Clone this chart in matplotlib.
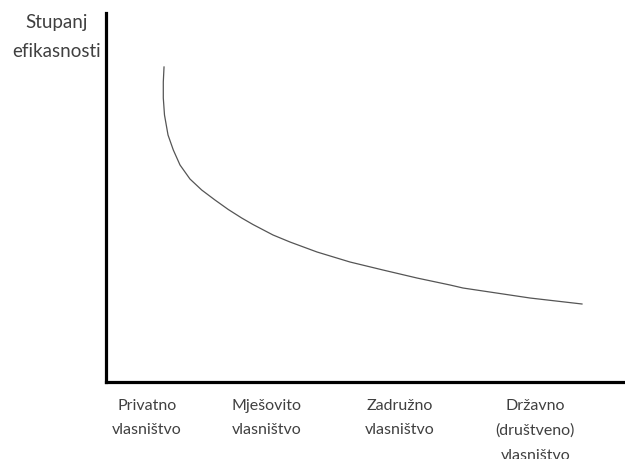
import numpy as np
import matplotlib
matplotlib.use('Agg')
from matplotlib import pyplot as plt

# ownership types along the x axis
categories = ['Privatno\nvlasništvo', 'Mješovito\nvlasništvo',
              'Zadružno\nvlasništvo', 'Državno\n(društveno)\nvlasništvo']
category_pos = [0.79, 3.10, 5.66, 8.27]

# efficiency curve (axis units 0..10)
curve_x = [1.118, 1.104, 1.104, 1.127, 1.195, 1.297, 1.426, 1.618, 1.844,
           2.100, 2.356, 2.615, 2.832, 3.218, 3.545, 4.066, 4.701, 5.337,
           5.992, 6.628, 6.879, 8.170, 9.171]
curve_y = [8.537, 8.130, 7.696, 7.236, 6.694, 6.287, 5.881, 5.501, 5.203,
           4.932, 4.675, 4.444, 4.268, 3.984, 3.794, 3.523, 3.252, 3.035,
           2.818, 2.629, 2.547, 2.276, 2.114]

ylabel = 'Stupanj\nefikasnosti'

plt.rcParams['font.family'] = ['Lato', 'DejaVu Sans']

fig = plt.figure(figsize=(6.25, 4.59), dpi=100)
ax = fig.add_axes([106 / 625, 1 - 382 / 459, 1 - 106 / 625, (382 - 13) / 459])

ax.plot(curve_x, curve_y, color='#555555', lw=0.9, solid_joinstyle='round')

ax.set_xlim(0, 10)
ax.set_ylim(0, 10)
for s in ['top', 'right']:
    ax.spines[s].set_visible(False)
for s in ['left', 'bottom']:
    ax.spines[s].set_linewidth(2.3)
    ax.spines[s].set_color('black')

ax.set_yticks([])
ax.set_xticks(category_pos)
ax.set_xticklabels(categories, fontsize=11.5, color='#404040')
ax.tick_params(axis='x', length=0, pad=12)
for t in ax.get_xticklabels():
    t.set_linespacing(1.97)

fig.text(57 / 625, 1 - 37 / 459, ylabel, ha='center', va='center',
         fontsize=13.5, color='#404040', linespacing=1.88)

plt.savefig('out.png', dpi=100)
